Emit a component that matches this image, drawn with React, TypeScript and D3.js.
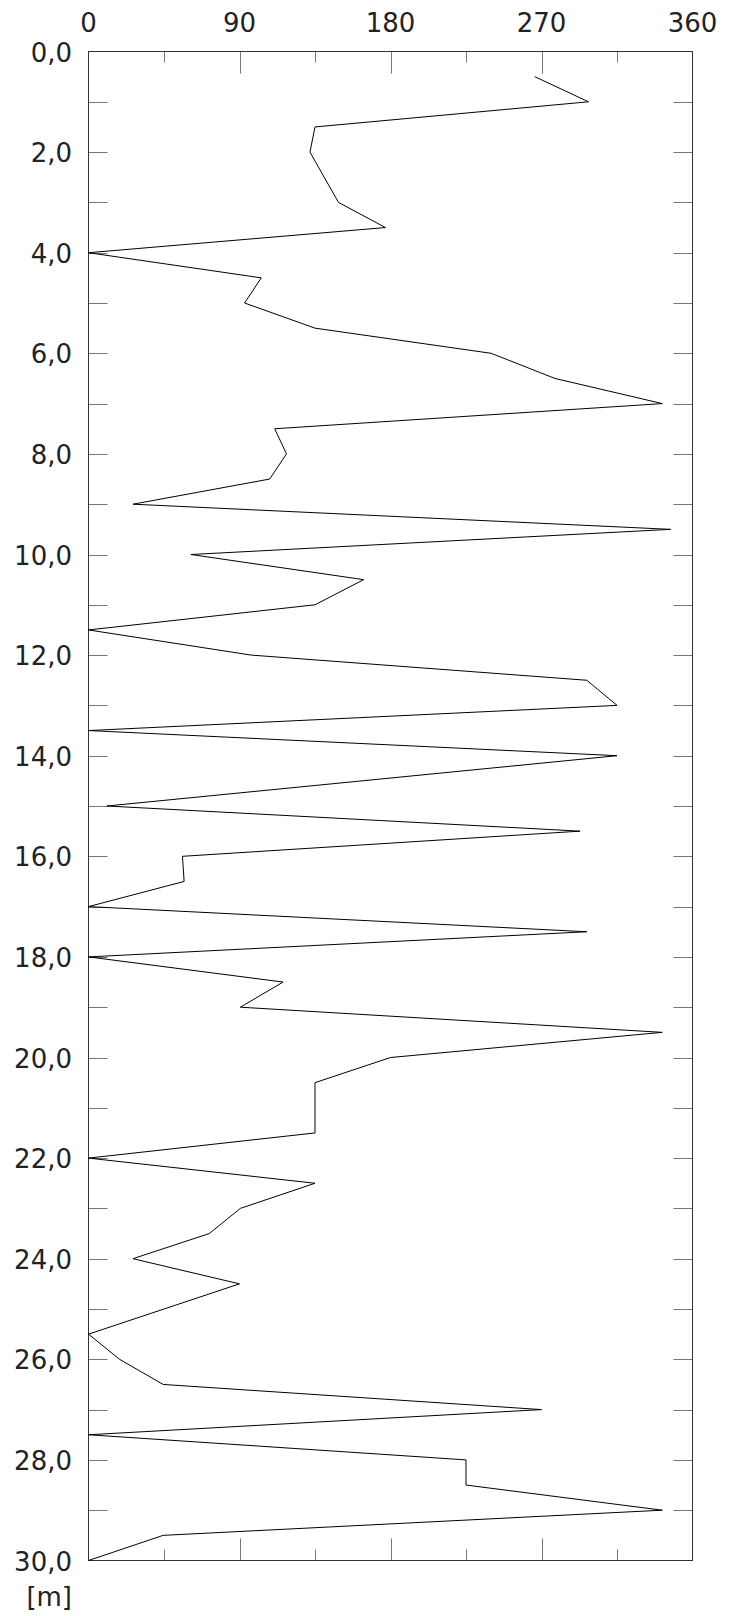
import React from "react";
import * as d3 from "d3";

// Depth [m] of each measured point
const depths = [
  0.5, 1.0, 1.5, 2.0, 3.0, 3.5, 4.0, 4.5, 5.0, 5.5, 6.0, 6.5, 7.0, 7.5, 8.0, 8.5,
  9.0, 9.5, 10.0, 10.5, 11.0, 11.5, 12.0, 12.5, 13.0, 13.5, 14.0, 15.0, 15.5,
  16.0, 16.5, 17.0, 17.5, 18.0, 18.5, 19.0, 19.5, 20.0, 20.5, 21.0, 21.5, 22.0,
  22.5, 23.0, 23.5, 24.0, 24.5, 25.5, 26.0, 26.5, 27.0, 27.5, 28.0, 28.5, 29.0,
  29.5, 30.0,
];
// Direction value [deg] at each depth
const values = [
  266, 298, 135, 132, 149, 177, 0, 103, 93, 135, 240, 278, 342, 111, 118, 108,
  26.5, 347, 61, 164, 135, 0, 97, 297, 315, 0, 315, 11, 293,
  56, 57, 0, 297, 0, 116, 90.5, 342, 180, 135, 135, 135, 0,
  135, 90.5, 72, 26.5, 90, 0, 18.5, 44.5, 270, 0, 225, 225, 342,
  44.5, 0,
];

const xTickLabels = ["0", "90", "180", "270", "360"];
const xTickValues = [0, 90, 180, 270, 360];
const xMinorValues = [45, 135, 225, 315];
const yLabelValues = [0, 2, 4, 6, 8, 10, 12, 14, 16, 18, 20, 22, 24, 26, 28, 30];
const yTickValues = d3.range(0, 31, 1);
const unitLabel = "[m]";

export default function App() {
  const W = 735;
  const H = 1616;
  const left = 88.5;
  const right = 692.5;
  const top = 51.5;
  const bottom = 1560.5;

  const x = d3.scaleLinear().domain([0, 360]).range([left, right]);
  const y = d3.scaleLinear().domain([0, 30]).range([top, bottom]);

  const pts: [number, number][] = depths.map((d, i) => [values[i], d]);
  const line = d3
    .line<[number, number]>()
    .x((p) => x(p[0]))
    .y((p) => y(p[1]));

  const fmt = (v: number) => v.toFixed(1).replace(".", ",");
  const font = "'DejaVu Sans', Verdana, sans-serif";
  const tickColor = "#777";
  const textColor = "#222";

  return (
    <svg
      width={W}
      height={H}
      style={{ position: "absolute", left: 0, top: 0, display: "block", background: "#fff" }}
    >
      {/* ticks top/bottom */}
      {xTickValues.slice(1, -1).map((v) => (
        <g key={"xt" + v}>
          <line x1={Math.round(x(v)) + 0.5} x2={Math.round(x(v)) + 0.5} y1={top} y2={top + 22} stroke={tickColor} />
          <line x1={Math.round(x(v)) + 0.5} x2={Math.round(x(v)) + 0.5} y1={bottom} y2={bottom - 22} stroke={tickColor} />
        </g>
      ))}
      {xMinorValues.map((v) => (
        <g key={"xm" + v}>
          <line x1={Math.round(x(v)) + 0.5} x2={Math.round(x(v)) + 0.5} y1={top} y2={top + 11} stroke={tickColor} />
          <line x1={Math.round(x(v)) + 0.5} x2={Math.round(x(v)) + 0.5} y1={bottom} y2={bottom - 11} stroke={tickColor} />
        </g>
      ))}
      {/* ticks left/right */}
      {yTickValues.slice(1, -1).map((v) => {
        const yy = Math.round(y(v)) + 0.5;
        return (
          <g key={"yt" + v}>
            <line x1={left} x2={left + 19} y1={yy} y2={yy} stroke={tickColor} />
            <line x1={right} x2={right - 19} y1={yy} y2={yy} stroke={tickColor} />
          </g>
        );
      })}
      {/* frame */}
      <rect x={left} y={top} width={right - left} height={bottom - top} fill="none" stroke="#333" strokeWidth={1} />
      {/* data */}
      <path d={line(pts) || ""} fill="none" stroke="#000" strokeWidth={1} />
      {/* x labels */}
      {xTickValues.map((v, i) => (
        <text
          key={"xl" + v}
          x={x(v)}
          y={31.5}
          textAnchor="middle"
          fontFamily={font}
          fontSize={26}
          fill={textColor}
        >
          {xTickLabels[i]}
        </text>
      ))}
      {/* y labels */}
      {yLabelValues.map((v) => (
        <text
          key={"yl" + v}
          x={72}
          y={y(v) + 10}
          textAnchor="end"
          fontFamily={font}
          fontSize={26}
          fill={textColor}
        >
          {fmt(v)}
        </text>
      ))}
      <text x={72} y={1606} textAnchor="end" fontFamily={font} fontSize={26} fill={textColor}>
        {unitLabel}
      </text>
    </svg>
  );
}
